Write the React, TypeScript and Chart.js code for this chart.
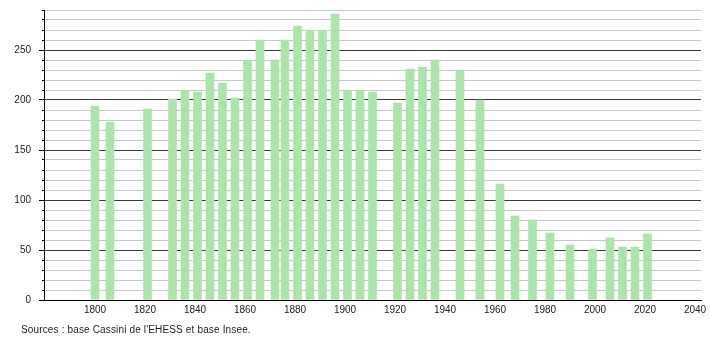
import React, { useEffect, useRef } from "react";
import { Chart, registerables } from "chart.js";

Chart.register(...registerables);

const YEARS = [
  1800, 1806, 1821, 1831, 1836, 1841, 1846, 1851, 1856, 1861, 1866, 1872, 1876,
  1881, 1886, 1891, 1896, 1901, 1906, 1911, 1921, 1926, 1931, 1936, 1946, 1954,
  1962, 1968, 1975, 1982, 1990, 1999, 2006, 2011, 2016, 2021,
];
const POPULATION = [
  194, 178, 191, 201, 210, 208, 227, 217, 202, 240, 260, 240, 260,
  274, 270, 270, 286, 210, 210, 208, 197, 231, 233, 240, 230, 200,
  116, 84, 80, 67, 55, 51, 62, 53, 53, 66,
];
const X_TICKS = [1800, 1820, 1840, 1860, 1880, 1900, 1920, 1940, 1960, 1980, 2000, 2020, 2040];
const Y_MAX = 290;
const Y_STEP = 10;
const Y_LABEL_STEP = 50;
const SOURCE = "Sources : base Cassini de l'EHESS et base Insee.";

const FONT = "'Liberation Sans', Arial, sans-serif";

function alignPixel(p: number) {
  return Math.round(p - 0.5) + 0.5;
}

const yTickMarks = {
  id: "yTickMarks",
  afterDraw(chart: any) {
    const y = chart.scales.y;
    const ctx = chart.ctx;
    const left = chart.chartArea.left;
    ctx.save();
    ctx.strokeStyle = "#000";
    ctx.lineWidth = 1;
    y.ticks.forEach((t: any) => {
      const py = alignPixel(y.getPixelForValue(t.value));
      const len = t.value % Y_LABEL_STEP === 0 ? 5 : 2;
      ctx.beginPath();
      ctx.moveTo(left - len, py);
      ctx.lineTo(left, py);
      ctx.stroke();
    });
    ctx.restore();
  },
};

export default function App() {
  const ref = useRef<HTMLCanvasElement | null>(null);

  useEffect(() => {
    document.body.style.margin = "0";
    if (!ref.current) return;
    const chart = new Chart(ref.current, {
      type: "bar",
      data: {
        datasets: [
          {
            data: YEARS.map((x, i) => ({ x, y: POPULATION[i] })),
            backgroundColor: "rgb(172,228,172)",
            borderWidth: 0,
            barThickness: 8,
          },
        ],
      },
      options: {
        animation: false,
        responsive: false,
        maintainAspectRatio: false,
        layout: { padding: { left: 0, right: 9, top: 10, bottom: 0 } },
        plugins: {
          legend: { display: false },
          tooltip: { enabled: false },
        },
        scales: {
          x: {
            type: "linear",
            offset: false,
            min: 1779.6,
            max: 2042.4,
            grid: { display: false, drawTicks: false, offset: false },
            border: { display: true, color: "#000", width: 1 },
            afterBuildTicks: (scale: any) => {
              scale.ticks = X_TICKS.map((v) => ({ value: v }));
            },
            afterFit: (scale: any) => {
              scale.height = 40;
              scale.paddingLeft = 0;
              scale.paddingRight = 0;
            },
            ticks: {
              autoSkip: false,
              maxRotation: 0,
              padding: 4,
              color: "#222",
              font: { family: FONT, size: 10 },
              callback: (v: any) => String(v),
            },
          },
          y: {
            type: "linear",
            min: 0,
            max: Y_MAX,
            grid: {
              drawTicks: false,
              color: (c: any) =>
                c.tick && c.tick.value % Y_LABEL_STEP === 0 ? "#3a3a3a" : "#c8c8c8",
              lineWidth: 1,
            },
            border: { display: true, color: "#000", width: 1 },
            afterFit: (scale: any) => {
              scale.width = 44;
              scale.paddingTop = 0;
              scale.paddingBottom = 0;
            },
            ticks: {
              stepSize: Y_STEP,
              autoSkip: false,
              padding: 13,
              color: "#222",
              font: { family: FONT, size: 10 },
              callback: (v: any) => (Number(v) % Y_LABEL_STEP === 0 ? String(v) : ""),
            },
          },
        },
      },
      plugins: [yTickMarks],
    } as any);
    return () => chart.destroy();
  }, []);

  return (
    <div style={{ position: "relative", width: 710, height: 340, background: "#fff" }}>
      <canvas ref={ref} width={710} height={340} style={{ display: "block", width: 710, height: 340 }} />
      <div
        style={{
          position: "absolute",
          left: 21,
          top: 324,
          fontFamily: FONT,
          fontSize: 10,
          letterSpacing: "0.15px",
          color: "#222",
          whiteSpace: "nowrap",
          lineHeight: "12px",
        }}
      >
        {SOURCE}
      </div>
    </div>
  );
}
